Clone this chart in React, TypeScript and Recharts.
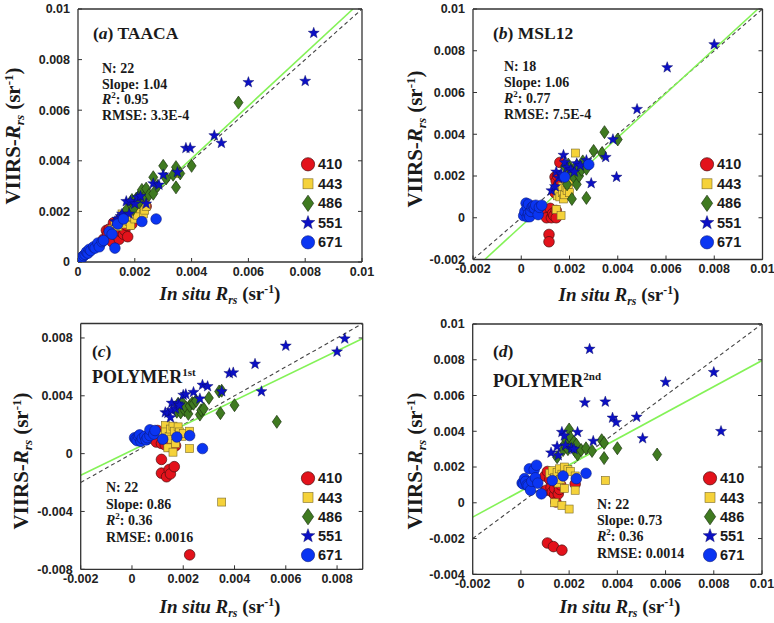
import React from "react";
import { ScatterChart, Scatter, XAxis, YAxis, ReferenceLine } from "recharts";

type Pt = [number, number];

// in situ Rrs (x) vs VIIRS Rrs (y), both in units of 1e-3 sr^-1
const taaca410: Pt[] = [[0.9,0.9],[1.0,1.25],[1.05,1.1],[1.1,1.3],[1.15,1.0],[1.2,0.8],[1.25,1.55],[1.3,1.1],[1.35,1.35],[1.4,1.6],[1.45,0.9],[1.5,1.2],[1.55,1.4],[1.6,1.1],[1.65,1.25],[1.7,1.45],[1.75,1.0],[1.8,1.6],[1.9,1.5],[2.0,1.75],[2.1,1.9],[2.4,2.2]];
const taaca443: Pt[] = [[1.2,1.3],[1.3,1.5],[1.4,1.4],[1.5,1.7],[1.55,1.9],[1.6,1.5],[1.65,1.75],[1.7,1.9],[1.75,2.0],[1.8,1.6],[1.85,1.45],[1.9,1.8],[1.95,2.05],[2.0,1.7],[2.05,2.0],[2.1,1.85],[2.15,2.3],[2.2,2.1],[2.3,1.9],[2.35,2.05],[2.4,2.2],[3.5,3.5]];
const taaca486: Pt[] = [[1.7,2.05],[1.85,2.3],[1.9,2.45],[1.95,2.1],[2.05,2.5],[2.15,2.35],[2.2,2.7],[2.25,2.85],[2.35,2.6],[2.4,2.9],[2.5,2.65],[2.65,2.7],[2.65,3.35],[2.8,3.0],[3.0,3.8],[3.1,3.3],[3.35,3.45],[3.45,2.95],[3.45,3.75],[3.6,3.5],[4.0,3.8],[5.65,6.3]];
const taaca551: Pt[] = [[1.3,1.6],[1.4,1.7],[1.5,1.8],[1.55,1.9],[1.7,2.4],[1.8,1.9],[1.85,2.4],[2.0,2.3],[2.1,2.55],[2.2,2.6],[2.4,2.3],[2.65,3.1],[2.85,3.05],[3.0,3.45],[3.5,3.55],[3.8,4.5],[3.95,4.5],[4.8,5.0],[5.05,4.7],[6.0,7.1],[8.0,7.15],[8.3,9.05]];
const taaca671: Pt[] = [[0.05,0.05],[0.1,0.1],[0.15,0.2],[0.2,0.25],[0.25,0.3],[0.3,0.4],[0.35,0.35],[0.4,0.5],[0.45,0.45],[0.55,0.6],[0.6,0.55],[0.7,0.75],[0.75,0.6],[0.85,0.8],[0.9,0.85],[1.1,1.2],[1.2,1.1],[1.3,0.55],[1.4,1.5],[1.6,1.7],[2.25,1.6],[2.75,1.7]];

const msl410: Pt[] = [[0.95,0.25],[1.05,0.3],[1.05,0.0],[1.15,-0.8],[1.15,-1.15],[1.2,0.45],[1.25,0.0],[1.3,0.2],[1.35,0.1],[1.4,1.95],[1.4,1.2],[1.45,0.35],[1.45,0.0],[1.45,1.75],[1.5,2.0],[1.55,1.6],[1.6,1.3],[1.6,2.65]];
const msl443: Pt[] = [[1.45,0.4],[1.5,1.05],[1.55,1.3],[1.6,1.0],[1.65,0.1],[1.7,1.2],[1.7,1.5],[1.75,0.9],[1.8,1.1],[1.85,1.9],[1.85,1.45],[1.9,1.3],[1.95,1.6],[2.0,1.2],[2.0,2.15],[2.1,1.75],[2.2,2.0],[2.25,3.1]];
const msl486: Pt[] = [[1.8,2.45],[1.9,1.6],[1.95,2.55],[2.0,2.35],[2.1,0.9],[2.1,2.2],[2.2,1.9],[2.3,1.6],[2.3,2.5],[2.4,2.0],[2.5,2.3],[2.55,2.7],[2.7,2.35],[2.7,0.95],[3.0,3.2],[3.35,3.1],[3.45,4.1],[4.0,3.75]];
const msl551: Pt[] = [[1.25,1.3],[1.4,1.5],[1.45,2.2],[1.55,1.9],[1.65,2.1],[1.75,3.0],[1.8,2.65],[1.9,2.4],[2.05,2.3],[2.2,2.2],[2.3,2.6],[2.45,2.5],[2.7,2.75],[2.9,1.65],[3.5,2.9],[3.8,3.75],[3.95,1.95],[4.8,5.2],[6.05,7.2],[8.0,8.3]];
const msl671: Pt[] = [[0.1,0.1],[0.15,0.3],[0.2,0.7],[0.25,0.5],[0.25,0.05],[0.3,0.65],[0.3,0.2],[0.35,0.05],[0.4,0.3],[0.45,0.5],[0.5,0.55],[0.55,0.45],[0.6,0.6],[0.7,0.15],[0.75,0.5],[0.85,0.6],[1.8,1.95],[2.8,2.55]];

const p1410: Pt[] = [[0.95,0.8],[1.0,1.6],[1.1,1.3],[1.15,0.7],[1.15,-0.4],[1.15,-1.35],[1.25,0.9],[1.3,0.6],[1.35,1.15],[1.35,-1.6],[1.45,0.5],[1.45,-1.1],[1.5,0.8],[1.5,-1.4],[1.6,1.2],[1.65,-0.9],[1.7,0.55],[2.25,-7.0]];
const p1443: Pt[] = [[1.15,1.25],[1.3,1.95],[1.3,1.5],[1.4,0.4],[1.45,1.2],[1.5,1.7],[1.55,1.0],[1.6,0.1],[1.6,1.9],[1.65,1.55],[1.7,0.7],[1.8,1.85],[1.85,1.5],[1.95,1.2],[2.0,1.4],[2.25,0.35],[2.25,1.55],[3.5,-3.35]];
const p1486: Pt[] = [[1.75,2.9],[1.8,3.45],[1.9,2.85],[1.95,3.55],[2.05,3.0],[2.1,3.2],[2.2,2.75],[2.25,3.3],[2.35,3.5],[2.4,3.45],[2.5,3.65],[2.65,2.7],[2.7,3.0],[2.8,3.1],[3.0,3.85],[3.4,4.3],[3.45,2.8],[3.5,4.35],[4.0,3.35],[5.65,2.2]];
const p1551: Pt[] = [[1.3,2.85],[1.4,2.8],[1.5,2.5],[1.55,3.5],[1.55,3.0],[1.7,3.1],[1.8,3.45],[1.85,3.35],[2.0,4.05],[2.1,4.1],[2.4,4.25],[2.65,3.8],[2.75,4.75],[2.95,4.65],[3.5,4.3],[3.8,5.55],[3.95,5.6],[4.8,6.2],[5.05,4.3],[6.0,7.45],[8.0,7.05],[8.3,7.95]];
const p1671: Pt[] = [[0.1,1.1],[0.15,1.0],[0.2,0.9],[0.25,1.2],[0.3,1.3],[0.35,0.85],[0.4,1.05],[0.5,1.2],[0.55,0.95],[0.6,1.1],[0.7,1.25],[0.7,1.65],[0.85,1.35],[0.9,1.6],[1.2,1.0],[1.75,1.15],[2.25,1.25],[2.75,0.35]];

const p2410: Pt[] = [[1.0,1.5],[1.05,0.7],[1.1,1.75],[1.1,-2.25],[1.2,1.3],[1.25,0.85],[1.3,0.6],[1.35,1.2],[1.35,-2.45],[1.4,0.45],[1.4,0.8],[1.45,0.05],[1.5,1.1],[1.55,0.5],[1.6,0.75],[1.65,1.0],[1.7,-2.65],[2.25,1.05]];
const p2443: Pt[] = [[1.2,1.65],[1.3,1.8],[1.4,1.4],[1.4,0.0],[1.5,1.7],[1.55,1.1],[1.6,1.9],[1.65,1.3],[1.7,1.6],[1.7,-0.15],[1.8,2.0],[1.8,0.8],[1.95,1.85],[2.0,-0.35],[2.05,1.75],[2.25,1.5],[2.25,0.7],[3.5,1.25]];
const p2486: Pt[] = [[1.5,2.55],[1.75,2.95],[1.8,3.25],[1.9,3.5],[1.95,3.0],[2.0,4.1],[2.05,3.65],[2.1,3.2],[2.2,3.4],[2.25,2.9],[2.3,3.25],[2.35,2.7],[2.5,2.95],[2.7,3.05],[2.95,2.9],[3.35,3.5],[3.45,3.35],[3.45,2.5],[4.0,3.05],[5.65,2.7]];
const p2551: Pt[] = [[1.25,2.8],[1.5,3.15],[1.55,2.65],[1.7,3.95],[1.8,3.75],[1.85,3.2],[2.1,3.05],[2.2,3.0],[2.35,3.95],[2.65,5.6],[2.85,8.6],[3.0,3.45],[3.5,5.65],[3.8,4.75],[3.95,4.5],[4.8,4.8],[5.05,3.6],[6.0,6.75],[8.0,7.3],[8.3,4.0]];
const p2671: Pt[] = [[0.05,1.1],[0.1,1.05],[0.15,1.35],[0.2,1.2],[0.25,1.0],[0.3,0.95],[0.35,1.9],[0.4,0.7],[0.45,1.2],[0.55,1.85],[0.6,1.4],[0.65,2.1],[0.7,1.1],[0.85,0.5],[1.3,1.25],[1.75,1.5],[2.3,1.35],[2.7,1.65]];

const bands = ["410", "443", "486", "551", "671"];

// regression fits: slope and intercept (1e-3 sr^-1)
const fitSlopes = [1.04, 1.06, 0.86, 0.73];
const fitIntercepts = [-0.07, -0.4, 0.23, 0.66];

const statN = ["22", "18", "22", "22"];
const statSlope = ["1.04", "1.06", "0.86", "0.73"];
const statR2 = ["0.95", "0.77", "0.36", "0.36"];
const statRmse = ["3.3E-4", "7.5E-4", "0.0016", "0.0014"];

const ticksA = [0, 2, 4, 6, 8, 10];
const ticksB = [-2, 0, 2, 4, 6, 8, 10];
const ticksCx = [-2, 0, 2, 4, 6, 8];
const ticksCy = [-8, -4, 0, 4, 8];
const ticksDy = [-4, -2, 0, 2, 4, 6, 8, 10];

const SERIF = "'Liberation Serif', 'Times New Roman', serif";
const SANS = "'Liberation Sans', Arial, sans-serif";
const AXIS = "#333";

const panels = [
  {
    left: 0, top: 0, width: 387, height: 312,
    plot: { x0: 78, x1: 362, y0: 9, y1: 262 },
    xDomain: [0, 10], yDomain: [0, 10], xTicks: ticksA, yTicks: ticksA,
    series: [taaca410, taaca443, taaca486, taaca551, taaca671],
  },
  {
    left: 387, top: 0, width: 387, height: 312,
    plot: { x0: 473, x1: 762.5, y0: 9, y1: 259.5 },
    xDomain: [-2, 10], yDomain: [-2, 10], xTicks: ticksB, yTicks: ticksB,
    series: [msl410, msl443, msl486, msl551, msl671],
  },
  {
    left: 0, top: 312, width: 387, height: 311,
    plot: { x0: 80.7, x1: 362.7, y0: 323.5, y1: 569.3 },
    xDomain: [-2, 9], yDomain: [-8, 9], xTicks: ticksCx, yTicks: ticksCy,
    series: [p1410, p1443, p1486, p1551, p1671],
  },
  {
    left: 387, top: 312, width: 387, height: 311,
    plot: { x0: 472.7, x1: 762, y0: 324, y1: 574.3 },
    xDomain: [-2, 10], yDomain: [-4, 10], xTicks: ticksB, yTicks: ticksDy,
    series: [p2410, p2443, p2486, p2551, p2671],
  },
];

function fmt(v: number) {
  return v === 0 ? "0" : String(v / 1000);
}

function clipLine(m: number, b: number, xd: number[], yd: number[]) {
  const xa = Math.max(xd[0], (yd[0] - b) / m);
  const xb = Math.min(xd[1], (yd[1] - b) / m);
  return [{ x: xa, y: m * xa + b }, { x: xb, y: m * xb + b }];
}

function starPoints(cx: number, cy: number, ro: number, ri: number) {
  const pts: string[] = [];
  for (let i = 0; i < 10; i++) {
    const r = i % 2 === 0 ? ro : ri;
    const a = -Math.PI / 2 + (i * Math.PI) / 5;
    pts.push(`${cx + r * Math.cos(a)},${cy + r * Math.sin(a)}`);
  }
  return pts.join(" ");
}

function Marker({ band, cx, cy, s = 1 }: { band: string; cx: number; cy: number; s?: number }) {
  if (band === "410")
    return <circle cx={cx} cy={cy} r={5.3 * s} fill="#e3121b" stroke="#4a1010" strokeWidth={0.7} />;
  if (band === "443")
    return <rect x={cx - 4 * s} y={cy - 4 * s} width={8 * s} height={8 * s} fill="#f5d23a" stroke="#7a6a2a" strokeWidth={0.6} />;
  if (band === "486")
    return (
      <polygon
        points={`${cx},${cy - 6.5 * s} ${cx + 4.5 * s},${cy} ${cx},${cy + 6.5 * s} ${cx - 4.5 * s},${cy}`}
        fill="#3f7a20" stroke="#1c3510" strokeWidth={0.7}
      />
    );
  if (band === "551")
    return <polygon points={starPoints(cx, cy, 5.8 * s, 2.4 * s)} fill="#0c10c4" stroke="#05085a" strokeWidth={0.4} />;
  return <circle cx={cx} cy={cy} r={5.3 * s} fill="#0a35f2" stroke="#0a1a80" strokeWidth={0.6} />;
}

function Panel({ p, i }: { p: (typeof panels)[number]; i: number }) {
  const { plot } = p;
  const yw = plot.x0 - p.left;
  const xh = p.top + p.height - plot.y1;
  const margin = { top: plot.y0 - p.top - 1, right: p.left + p.width - plot.x1 - 1, bottom: 0, left: 0 };
  const tickStyle = { fontFamily: SANS, fontWeight: 700, fontSize: 12.5, fill: "#222" };
  const fit = clipLine(fitSlopes[i], fitIntercepts[i], p.xDomain, p.yDomain);
  const oneToOne = clipLine(1, 0, p.xDomain, p.yDomain);
  return (
    <div style={{ position: "absolute", left: p.left, top: p.top }}>
      <ScatterChart width={p.width} height={p.height} margin={margin}>
        <XAxis type="number" dataKey="x" domain={p.xDomain} ticks={p.xTicks} interval={0} allowDataOverflow
          height={xh} tickSize={-4} tickMargin={9} tick={tickStyle} tickFormatter={fmt}
          axisLine={{ stroke: AXIS, strokeWidth: 1.3 }} tickLine={{ stroke: AXIS }} />
        <XAxis xAxisId="top" orientation="top" type="number" domain={p.xDomain} ticks={p.xTicks} interval={0}
          allowDataOverflow height={1} tickSize={-4} tickFormatter={() => ""}
          axisLine={{ stroke: AXIS, strokeWidth: 1.3 }} tickLine={{ stroke: AXIS }} />
        <YAxis type="number" dataKey="y" domain={p.yDomain} ticks={p.yTicks} interval={0} allowDataOverflow
          width={yw} tickSize={-4} tickMargin={12} tick={tickStyle} tickFormatter={fmt}
          axisLine={{ stroke: AXIS, strokeWidth: 1.3 }} tickLine={{ stroke: AXIS }} />
        <YAxis yAxisId="right" orientation="right" type="number" domain={p.yDomain} ticks={p.yTicks} interval={0}
          allowDataOverflow width={1} tickSize={-4} tickFormatter={() => ""}
          axisLine={{ stroke: AXIS, strokeWidth: 1.3 }} tickLine={{ stroke: AXIS }} />
        <ReferenceLine segment={oneToOne} stroke="#444" strokeWidth={1.1} strokeDasharray="4 3" ifOverflow="hidden" />
        <ReferenceLine segment={fit} stroke="#84f257" strokeWidth={1.6} ifOverflow="hidden" />
        {p.series.map((pts, k) => (
          <Scatter
            key={bands[k]}
            name={bands[k]}
            data={pts.map(([x, y]) => ({ x, y }))}
            isAnimationActive={false}
            shape={(sp: any) => <Marker band={bands[k]} cx={sp.cx} cy={sp.cy} />}
          />
        ))}
      </ScatterChart>
    </div>
  );
}

function Rrs() {
  return (
    <>
      <tspan fontStyle="italic">R</tspan>
      <tspan fontStyle="italic" fontSize="0.62em" dy={4}>rs</tspan>
      <tspan dy={-4}> (sr</tspan>
      <tspan fontSize="0.62em" dy={-7}>-1</tspan>
      <tspan dy={7}>)</tspan>
    </>
  );
}

const overlay = [
  { title: [{ t: "(", i: false }, { t: "a", i: true }, { t: ") TAACA", i: false }], titleX: 93, titleY: 39, sub: "",
    statX: 102, statY: [73, 88.5, 104, 119.5], legX: 308, legY: 164.3, legStep: 19.5, xt: [220, 300], yt: [20, 136] },
  { title: [{ t: "(", i: false }, { t: "b", i: true }, { t: ") MSL12", i: false }], titleX: 493, titleY: 38.5, sub: "",
    statX: 504, statY: [71, 87, 103, 119], legX: 707, legY: 164.3, legStep: 19.5, xt: [619, 301], yt: [422, 139] },
  { title: [{ t: "(", i: false }, { t: "c", i: true }, { t: ")", i: false }], titleX: 92, titleY: 357, sub: "1st",
    statX: 106, statY: [492, 508.5, 525, 541.5], legX: 308, legY: 478.3, legStep: 19.2, xt: [220, 613], yt: [28, 461] },
  { title: [{ t: "(", i: false }, { t: "d", i: true }, { t: ")", i: false }], titleX: 493, titleY: 357, sub: "2nd",
    statX: 597, statY: [508.7, 524.5, 541, 557.5], legX: 710, legY: 478.3, legStep: 19.2, xt: [620, 613], yt: [422, 461] },
];

function Overlay() {
  return (
    <svg width={774} height={623} style={{ position: "absolute", left: 0, top: 0, pointerEvents: "none" }}>
      {overlay.map((o, i) => (
        <g key={i} fill="#1a1a1a">
          <text x={o.titleX} y={o.titleY} fontFamily={SERIF} fontWeight="bold" fontSize={17.5}>
            {o.title.map((s, k) => (
              <tspan key={k} fontStyle={s.i ? "italic" : "normal"}>{s.t}</tspan>
            ))}
          </text>
          {o.sub && (
            <text x={o.titleX} y={o.titleY + (i === 2 ? 26 : 30)} fontFamily={SERIF} fontWeight="bold" fontSize={18}>
              POLYMER<tspan fontSize={11} dy={-7}>{o.sub}</tspan>
            </text>
          )}
          <g fontFamily={SERIF} fontWeight="bold" fontSize={14}>
            <text x={o.statX} y={o.statY[0]}>N: {statN[i]}</text>
            <text x={o.statX} y={o.statY[1]}>Slope: {statSlope[i]}</text>
            <text x={o.statX} y={o.statY[2]}>
              <tspan fontStyle="italic">R</tspan>
              <tspan fontSize={9} dy={-6}>2</tspan>
              <tspan dy={6}>: {statR2[i]}</tspan>
            </text>
            <text x={o.statX} y={o.statY[3]}>RMSE: {statRmse[i]}</text>
          </g>
          {bands.map((b, k) => (
            <g key={b}>
              <Marker band={b} cx={o.legX} cy={o.legY + k * o.legStep} s={1.25} />
              <text x={o.legX + 10} y={o.legY + k * o.legStep + 5} fontFamily={SANS} fontWeight="bold" fontSize={14.5}>
                {b}
              </text>
            </g>
          ))}
          <text x={o.xt[0]} y={o.xt[1]} textAnchor="middle" fontFamily={SERIF} fontWeight="bold" fontSize={19}>
            <tspan fontStyle="italic">In situ </tspan>
            <Rrs />
          </text>
          <text
            transform={`translate(${o.yt[0]},${o.yt[1]}) rotate(-90)`}
            textAnchor="middle" fontFamily={SERIF} fontWeight="bold" fontSize={21}
          >
            VIIRS-
            <Rrs />
          </text>
        </g>
      ))}
    </svg>
  );
}

export default function App() {
  return (
    <div style={{ position: "absolute", left: 0, top: 0, width: 774, height: 623, background: "#fff" }}>
      {panels.map((p, i) => (
        <Panel key={i} p={p} i={i} />
      ))}
      <Overlay />
    </div>
  );
}
